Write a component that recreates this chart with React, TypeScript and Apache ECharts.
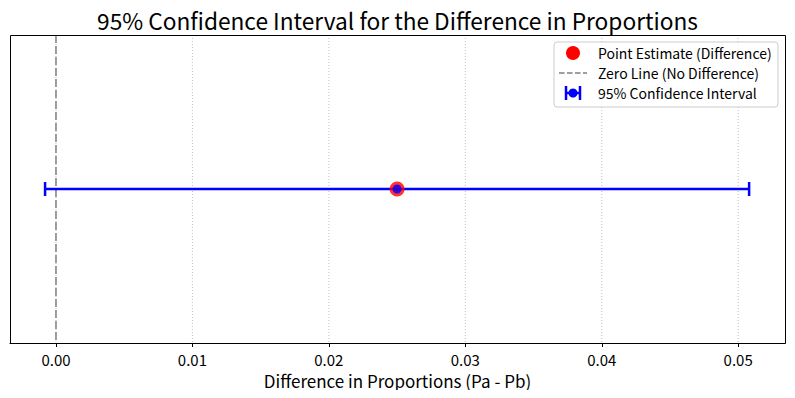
import React, { useEffect, useRef } from "react";
import * as echarts from "echarts";

const tickValues = [0, 0.01, 0.02, 0.03, 0.04, 0.05];
const pointEstimate = [0.025];
const ciBounds = [-0.0008, 0.0508];
const zeroLine = [0];
const legendLabels = [
  "Point Estimate (Difference)",
  "Zero Line (No Difference)",
  "95% Confidence Interval",
];
const FONT = "'Noto Sans CJK JP', 'Noto Sans', sans-serif";

function vLineSeries(values: number[], stroke: string, lineWidth: number, lineDash: number[], z: number) {
  return {
    type: "custom",
    z,
    silent: true,
    data: values.map((v) => [v]),
    renderItem: (params: any, api: any) => {
      const cs = params.coordSys;
      const x = api.coord([api.value(0), 0])[0];
      return {
        type: "line",
        shape: { x1: x, y1: cs.y, x2: x, y2: cs.y + cs.height },
        style: { stroke, lineWidth, lineDash, fill: null },
      };
    },
  };
}

export default function App() {
  const ref = useRef<HTMLDivElement>(null);
  useEffect(() => {
    if (!ref.current) return;
    const chart = echarts.init(ref.current, undefined, { renderer: "svg" });
    const lx = 554, ly = 42;
    const rowY = [53, 73, 93];
    chart.setOption({
      animation: false,
      textStyle: { fontFamily: FONT },
      title: {
        text: "95% Confidence Interval for the Difference in Proportions",
        left: "center",
        top: 4,
        textStyle: { fontFamily: FONT, fontSize: 22.7, fontWeight: "normal", color: "#000" },
      },
      grid: { left: 10, right: 10, top: 35, bottom: 55 },
      xAxis: {
        type: "value",
        min: -0.00337,
        max: 0.05343,
        name: "Difference in Proportions (Pa - Pb)",
        nameLocation: "middle",
        nameGap: 27,
        nameTextStyle: { fontFamily: FONT, fontSize: 17, lineHeight: 18, color: "#000" },
        axisLine: { show: true, onZero: false, lineStyle: { color: "#000", width: 1 } },
        axisTick: { show: true, customValues: tickValues, length: 4, lineStyle: { color: "#000" } },
        axisLabel: {
          customValues: tickValues,
          fontFamily: FONT,
          fontSize: 15,
          lineHeight: 15,
          color: "#000",
          margin: 9,
          formatter: (v: number) => v.toFixed(2),
        },
        splitLine: { show: false },
      },
      yAxis: {
        type: "value",
        min: -1,
        max: 1,
        axisLine: { show: false, onZero: false },
        axisTick: { show: false },
        axisLabel: { show: false },
        splitLine: { show: false },
      },
      series: [
        vLineSeries(tickValues, "#b0b0b0", 0.8, [1, 2], 1),
        vLineSeries(zeroLine, "#808080", 1.5, [8, 3], 3),
        {
          type: "custom",
          z: 4,
          data: [[ciBounds[0], ciBounds[1], 0]],
          renderItem: (params: any, api: any) => {
            const p1 = api.coord([api.value(0), api.value(2)]);
            const p2 = api.coord([api.value(1), api.value(2)]);
            const style = { stroke: "#0000ff", lineWidth: 2.5, fill: null };
            const cap = 7;
            return {
              type: "group",
              children: [
                { type: "line", shape: { x1: p1[0], y1: p1[1], x2: p2[0], y2: p2[1] }, style },
                { type: "line", shape: { x1: p1[0], y1: p1[1] - cap, x2: p1[0], y2: p1[1] + cap }, style },
                { type: "line", shape: { x1: p2[0], y1: p2[1] - cap, x2: p2[0], y2: p2[1] + cap }, style },
              ],
            };
          },
        },
        {
          type: "scatter",
          z: 5,
          symbol: "circle",
          symbolSize: 15,
          itemStyle: { color: "#ff0000" },
          data: pointEstimate.map((v) => [v, 0]),
        },
        {
          type: "scatter",
          z: 6,
          symbol: "circle",
          symbolSize: 9,
          itemStyle: { color: "#0000ff" },
          data: pointEstimate.map((v) => [v, 0]),
        },
      ],
      graphic: [
        {
          type: "rect",
          z: 90,
          silent: true,
          shape: { x: 10.5, y: 35.5, width: 775, height: 308 },
          style: { fill: "none", stroke: "#000", lineWidth: 1 },
        },
        {
          type: "rect",
          z: 100,
          shape: { x: lx, y: ly, width: 224, height: 65, r: 3 },
          style: { fill: "rgba(255,255,255,0.85)", stroke: "#cccccc", lineWidth: 1 },
        },
        {
          type: "circle",
          z: 101,
          shape: { cx: 573, cy: rowY[0], r: 7 },
          style: { fill: "#ff0000" },
        },
        {
          type: "line",
          z: 101,
          shape: { x1: 559, y1: rowY[1], x2: 587, y2: rowY[1] },
          style: { stroke: "#808080", lineWidth: 1.5, lineDash: [5.5, 2.5] },
        },
        {
          type: "line",
          z: 101,
          shape: { x1: 566, y1: rowY[2], x2: 580, y2: rowY[2] },
          style: { stroke: "#0000ff", lineWidth: 2.5 },
        },
        {
          type: "line",
          z: 101,
          shape: { x1: 566, y1: rowY[2] - 7, x2: 566, y2: rowY[2] + 7 },
          style: { stroke: "#0000ff", lineWidth: 2.5 },
        },
        {
          type: "line",
          z: 101,
          shape: { x1: 580, y1: rowY[2] - 7, x2: 580, y2: rowY[2] + 7 },
          style: { stroke: "#0000ff", lineWidth: 2.5 },
        },
        {
          type: "circle",
          z: 102,
          shape: { cx: 573, cy: rowY[2], r: 4.5 },
          style: { fill: "#0000ff" },
        },
        ...legendLabels.map((t, i) => ({
          type: "text",
          z: 101,
          x: 598,
          y: rowY[i],
          style: {
            text: t,
            fontFamily: FONT,
            fontSize: 14,
            fill: "#000",
            verticalAlign: "middle",
          },
        })),
      ],
    });
    return () => chart.dispose();
  }, []);
  return <div ref={ref} style={{ width: 795, height: 398, margin: -8 }} />;
}
